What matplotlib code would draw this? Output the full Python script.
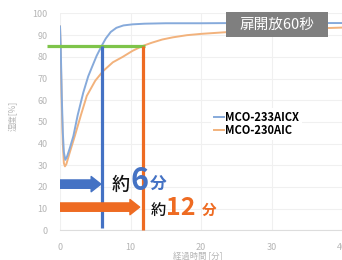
import matplotlib
matplotlib.use("Agg")
import matplotlib.pyplot as plt
from matplotlib.patches import FancyArrowPatch, Rectangle, ArrowStyle
from matplotlib.lines import Line2D

plt.rcParams['font.family'] = ['Noto Sans CJK JP', 'DejaVu Sans']

# Data (time in minutes, humidity in %)
t_blue = [0, 0.1, 0.25, 0.4, 0.55, 0.75, 1.0, 1.4, 1.9, 2.5, 3.3, 4.0, 4.5, 5.2, 5.9,
          6.5, 7.2, 8.0, 9.0, 10.3, 12, 15, 20, 25, 30, 35, 40]
v_blue = [94, 85, 62, 45, 36, 32.5, 34, 38, 43.5, 53, 63.5, 71, 75, 80.5, 85,
          88.5, 91.5, 93.4, 94.5, 95, 95.3, 95.5, 95.5, 95.6, 95.6, 95.6, 95.6]
t_orange = [0, 0.1, 0.25, 0.4, 0.55, 0.7, 0.9, 1.3, 2.1, 3.0, 3.8, 5.0, 6.1, 7.5, 8.9,
            10.3, 11.7, 13, 14.5, 16, 18, 20, 25, 30, 35, 40]
v_orange = [94, 82, 58, 40, 31, 29.5, 30.5, 35, 43.5, 53.5, 62, 69, 73.4, 77.5, 80,
            82.8, 85, 86.5, 88, 89, 90, 90.6, 91.7, 92.5, 93, 93.5]
series_names = ['MCO-233AICX', 'MCO-230AIC']
x_ticks = [0, 10, 20, 30, 40]
y_ticks = list(range(0, 101, 10))
target_level = 85
time_blue = 6
time_orange = 11.8
W, H = 342, 260

fig = plt.figure(figsize=(W / 100, H / 100), dpi=100)
ax = fig.add_axes([60 / W, 29.7 / H, (W - 60) / W, 216.8 / H])
ax.set_xlim(0, 39.7)
ax.set_ylim(0, 100)

c_blue_line = '#86aadb'
c_orange_line = '#f2b27c'
ax.plot(t_orange, v_orange, color=c_orange_line, lw=1.4, zorder=3)
ax.plot(t_blue, v_blue, color=c_blue_line, lw=1.4, zorder=3)

ax.set_xticks(x_ticks)
ax.set_yticks(y_ticks)
ax.tick_params(length=0, labelsize=6.5, labelcolor='#b5b5b5', pad=9)
ax.grid(True, color='#f0f0f0', lw=0.8)
for s in ['top', 'right', 'left']:
    ax.spines[s].set_visible(False)
ax.spines['bottom'].set_color('#dddddd')
ax.set_axisbelow(True)

fig.text(13 / W, 1 - 116 / H, '湿度[%]', rotation=90, ha='center', va='center',
         fontsize=6, color='#b5b5b5')
fig.text(198 / W, 1 - 256 / H, '経過時間 [分]', ha='center', va='center',
         fontsize=6, color='#b5b5b5')

# Target line and vertical markers
blue = '#4472c4'
orange = '#ee6b22'
ax.plot([-1.83, 12.1], [target_level, target_level], color='#7ec44a', lw=2.3,
        clip_on=False, zorder=5, solid_capstyle='butt')
ax.plot([time_blue, time_blue], [target_level, 1], color=blue, lw=2.3, zorder=5,
        solid_capstyle='butt')
ax.plot([time_orange, time_orange], [target_level, 0], color=orange, lw=2.3, zorder=5,
        solid_capstyle='butt', clip_on=False)

style = ArrowStyle.Simple(head_length=7, head_width=11, tail_width=6)
ax.add_patch(FancyArrowPatch((0, 21.3), (time_blue - 0.2, 21.3), arrowstyle=style,
                             mutation_scale=1, color=blue, shrinkA=0, shrinkB=0, zorder=6))
ax.add_patch(FancyArrowPatch((0, 10.7), (time_orange - 0.5, 10.7), arrowstyle=style,
                             mutation_scale=1, color=orange, shrinkA=0, shrinkB=0, zorder=6))

# Annotation texts
def ftxt(x, y, s, **kw):
    fig.text(x / W, 1 - y / H, s, va='baseline', ha='left', **kw)

ftxt(112, 190, '約', fontsize=13, color='#111111', fontweight='medium')
ftxt(131, 190, '6', fontsize=22, color=blue, fontweight='bold')
ftxt(150, 190, '分', fontsize=12, color=blue, fontweight='bold')
ftxt(151, 215, '約', fontsize=11, color='#111111', fontweight='medium')
ftxt(166, 215, '12', fontsize=18, color=orange, fontweight='bold')
ftxt(202, 215, '分', fontsize=10.5, color=orange, fontweight='bold')

# Label box
fig.patches.append(Rectangle((226 / W, 1 - 37 / H), 102 / W, 25 / H,
                             transform=fig.transFigure, facecolor='#7f7f7f',
                             edgecolor='none', zorder=10))
fig.text(277 / W, 1 - 24.5 / H, '扉開放60秒', ha='center', va='center',
         fontsize=10.5, color='white', zorder=11)

# Legend
handles = [Line2D([], [], color=c_blue_line, lw=1.4),
           Line2D([], [], color=c_orange_line, lw=1.4)]
leg = ax.legend(handles, series_names, loc='upper left',
                bbox_to_anchor=(205 / W, 1 - 102 / H), bbox_transform=fig.transFigure,
                frameon=True, handlelength=0.9, handletextpad=0.1,
                labelspacing=0.0, borderpad=0.3, prop={'weight': 'bold', 'size': 8})
leg.get_frame().set_facecolor('white')
leg.get_frame().set_edgecolor('none')
leg.get_frame().set_alpha(1)

fig.savefig('out.png', dpi=100)
